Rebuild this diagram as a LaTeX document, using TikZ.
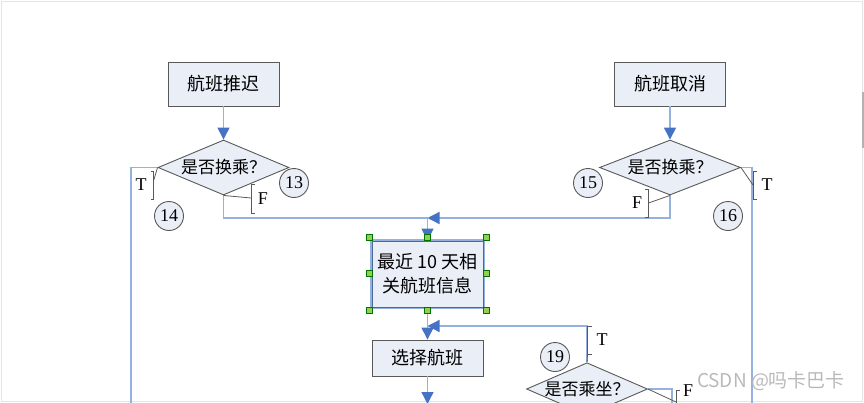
\documentclass[tikz,border=0pt]{standalone}
\usepackage{fontspec}
\setmainfont{Liberation Serif}
\newfontfamily\cjk{Noto Sans CJK SC}
\usetikzlibrary{shapes.geometric,arrows.meta}
\definecolor{boxfill}{HTML}{E9EEF7}
\definecolor{boxline}{HTML}{595959}
\definecolor{linkc}{HTML}{95B1DD}
\definecolor{tipc}{HTML}{4472C4}
\definecolor{handc}{HTML}{92D050}
\begin{document}
\begin{tikzpicture}[x=1pt,y=-1pt,
  box/.style={draw=boxline,fill=boxfill,line width=0.9pt,minimum width=111pt,minimum height=44pt,inner sep=0pt,font=\cjk\fontsize{18}{24}\selectfont,align=center},
  test/.style={diamond,draw=boxline,fill=boxfill,line width=0.9pt,aspect=2.3,inner sep=0pt,minimum height=55pt,font=\cjk\fontsize{17}{17}\selectfont},
  num/.style={circle,draw=boxline,fill=boxfill,line width=0.9pt,minimum size=29pt,inner sep=0pt,font=\fontsize{18}{18}\selectfont},
  info/.style={preaction={draw=linkc,line width=4pt},draw=tipc!60!boxline},
  link/.style={draw=linkc,line width=1.3pt},
  flow/.style={link,-{Triangle[width=12pt,length=12pt,color=tipc]}},
  brace/.style={draw=boxline,line width=0.8pt},
  tf/.style={inner sep=0pt,font=\fontsize{18}{18}\selectfont},
  handle/.style={draw=green!45!black,fill=handc,line width=0.5pt,minimum size=6pt,inner sep=0pt}]
\useasboundingbox (0,0) rectangle (864,402);
\clip (0,0) rectangle (864,402);
\draw[gray!20,line width=1pt] (1,1) rectangle (862,401);
\fill[gray!60] (861.5,92) rectangle (864,148);

\node[box] (delay) at (223.5,84) {航班推迟};
\node[box] (cancel) at (670,84) {航班取消};
\node[test,minimum width=131pt] (ask1) at (223.5,167.5) {是否换乘？};
\node[test,minimum width=141pt] (ask2) at (670,167.5) {是否换乘？};
\node[box,info,minimum height=66pt] (info) at (427.5,274) {{\cjk 最近} 10 {\cjk 天相}\\关航班信息};
\node[box,minimum height=36pt] (pick) at (427.5,358) {选择航班};
\node[test,minimum width=121pt,minimum height=52pt] (ask3) at (587,389) {是否乘坐？};

\node[num] (n13) at (294,183) {13};
\node[num] (n14) at (169,216) {14};
\node[num] (n15) at (588,183) {15};
\node[num] (n16) at (728,216) {16};
\node[num] (n19) at (555,357) {19};

\coordinate (j1) at (427.5,218);
\coordinate (j2) at (427.5,326);
\coordinate (t1) at (131,167.5);
\coordinate (t1e) at (131,410);
\coordinate (t2) at (752,167.5);
\coordinate (t2e) at (752,410);
\coordinate (f3) at (672,389);
\coordinate (f3e) at (672,410);
\coordinate (out1) at (427.5,404);

\path[flow] (delay) -- (ask1);
\path[flow] (cancel) -- (ask2);
\path[link] (ask1.south) |- (j1);
\path[flow] (ask2.south) |- (j1);
\path[flow] (j1) -- (info.north);
\path[flow] (info.south) -- (pick.north);
\path[flow] (ask3.north) |- (j2);
\path[flow] (pick.south) -- (out1);
\path[link] (ask1.west) -- (t1) -- (t1e);
\path[link] (ask2.east) -- (t2) -- (t2e);
\path[link] (ask3.east) -- (f3) -- (f3e);

% T / F brackets
\draw[brace] (ask1.west) -- (153.5,181);
\draw[brace] (150.5,171) -- (153.5,171) -- (153.5,199) -- (150.5,199);
\node[tf] (t1lab) at (141,185) {T};
\draw[brace] (ask1.south) -- (251,198);
\draw[brace] (255,184) -- (251,184) -- (251,213) -- (255,213);
\node[tf] (f1lab) at (263,199) {F};
\draw[brace] (ask2.east) -- (753,185);
\draw[brace] (757,171) -- (753,171) -- (753,199) -- (757,199);
\node[tf] (t2lab) at (767,185) {T};
\draw[brace] (ask2.south) -- (648.5,203);
\draw[brace] (645,189) -- (648.5,189) -- (648.5,217) -- (645,217);
\node[tf] (f2lab) at (637,203) {F};
\draw[brace] (591.5,326) -- (587.5,326) -- (587.5,354) -- (591.5,354);
\draw[brace] (587.5,354) -- (ask3.north);
\node[tf] (t3lab) at (602,340) {T};
\draw[brace] (ask3.east) -- (676,402);
\draw[brace] (680,390.5) -- (676,390.5) -- (676,420);
\node[tf] (f3lab) at (688,391) {F};

% selection handles
\node[handle] (h1) at (369,237) {};
\node[handle] (h2) at (427.5,237) {};
\node[handle] (h3) at (486,237) {};
\node[handle] (h4) at (369,273) {};
\node[handle] (h5) at (486,273) {};
\node[handle] (h6) at (369,310) {};
\node[handle] (h7) at (427.5,310) {};
\node[handle] (h8) at (486,310) {};

\node[text=gray!55,font=\cjk\fontsize{19}{19}\selectfont] (mark) at (771,381) {CSDN @吗卡巴卡};
\end{tikzpicture}
\end{document}
